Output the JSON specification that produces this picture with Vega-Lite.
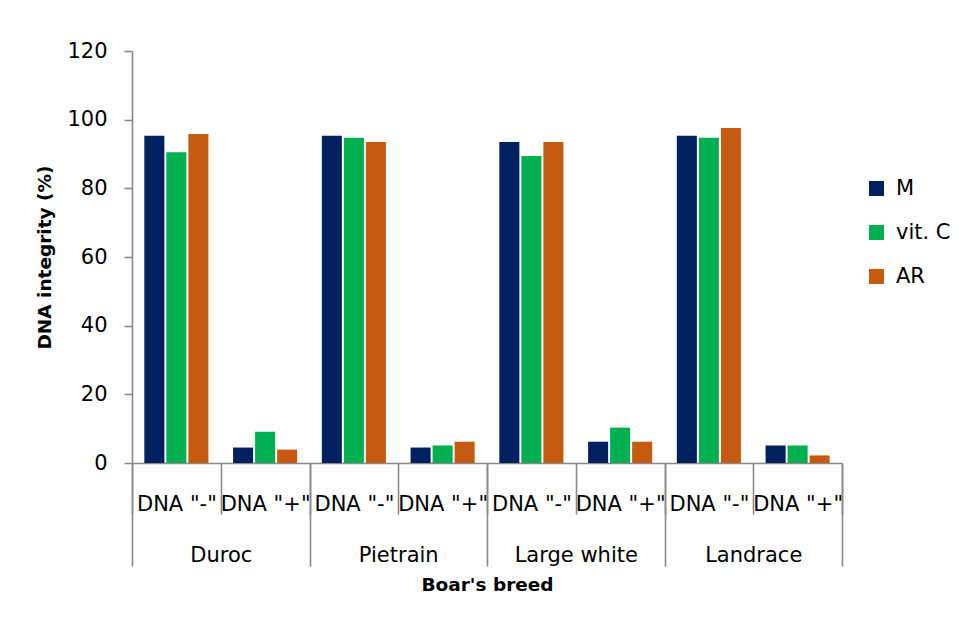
{
  "$schema": "https://vega.github.io/schema/vega-lite/v6.json",
  "width": 710,
  "height": 412,
  "autosize": {"type": "none"},
  "padding": {"left": 132, "top": 51, "right": 120, "bottom": 161},
  "background": "white",
  "config": {
    "view": {"stroke": null},
    "font": "DejaVu Sans",
    "axis": {
      "domainColor": "#898989",
      "tickColor": "#898989",
      "domainWidth": 1.6,
      "tickWidth": 1.6,
      "labelColor": "black",
      "titleColor": "black",
      "labelFontSize": 21,
      "titleFontSize": 18.5,
      "titleFontWeight": "bold",
      "grid": false,
      "labelOverlap": false,
      "labelFlush": false
    }
  },
  "data": {
    "values": [
      {"breed": "Duroc", "key": "Duroc|DNA \"-\"", "series": "M", "value": 95.3},
      {"breed": "Duroc", "key": "Duroc|DNA \"-\"", "series": "vit. C", "value": 90.5},
      {"breed": "Duroc", "key": "Duroc|DNA \"-\"", "series": "AR", "value": 95.8},
      {"breed": "Duroc", "key": "Duroc|DNA \"+\"", "series": "M", "value": 4.5},
      {"breed": "Duroc", "key": "Duroc|DNA \"+\"", "series": "vit. C", "value": 9.1},
      {"breed": "Duroc", "key": "Duroc|DNA \"+\"", "series": "AR", "value": 3.9},
      {"breed": "Pietrain", "key": "Pietrain|DNA \"-\"", "series": "M", "value": 95.3},
      {"breed": "Pietrain", "key": "Pietrain|DNA \"-\"", "series": "vit. C", "value": 94.7},
      {"breed": "Pietrain", "key": "Pietrain|DNA \"-\"", "series": "AR", "value": 93.5},
      {"breed": "Pietrain", "key": "Pietrain|DNA \"+\"", "series": "M", "value": 4.5},
      {"breed": "Pietrain", "key": "Pietrain|DNA \"+\"", "series": "vit. C", "value": 5.1},
      {"breed": "Pietrain", "key": "Pietrain|DNA \"+\"", "series": "AR", "value": 6.2},
      {"breed": "Large white", "key": "Large white|DNA \"-\"", "series": "M", "value": 93.5},
      {"breed": "Large white", "key": "Large white|DNA \"-\"", "series": "vit. C", "value": 89.4},
      {"breed": "Large white", "key": "Large white|DNA \"-\"", "series": "AR", "value": 93.5},
      {"breed": "Large white", "key": "Large white|DNA \"+\"", "series": "M", "value": 6.2},
      {"breed": "Large white", "key": "Large white|DNA \"+\"", "series": "vit. C", "value": 10.3},
      {"breed": "Large white", "key": "Large white|DNA \"+\"", "series": "AR", "value": 6.2},
      {"breed": "Landrace", "key": "Landrace|DNA \"-\"", "series": "M", "value": 95.3},
      {"breed": "Landrace", "key": "Landrace|DNA \"-\"", "series": "vit. C", "value": 94.7},
      {"breed": "Landrace", "key": "Landrace|DNA \"-\"", "series": "AR", "value": 97.6},
      {"breed": "Landrace", "key": "Landrace|DNA \"+\"", "series": "M", "value": 5.1},
      {"breed": "Landrace", "key": "Landrace|DNA \"+\"", "series": "vit. C", "value": 5.1},
      {"breed": "Landrace", "key": "Landrace|DNA \"+\"", "series": "AR", "value": 2.2}
    ]
  },
  "layer": [
    {
      "mark": {"type": "bar"},
      "encoding": {
        "x": {
          "field": "key",
          "type": "nominal",
          "sort": null,
          "scale": {"paddingInner": 0, "paddingOuter": 0},
          "axis": {
            "orient": "bottom",
            "title": null,
            "labelAngle": 0,
            "labelExpr": "split(datum.value, '|')[1]",
            "tickBand": "extent",
            "tickSize": 51,
            "labelPadding": -21,
            "labelBaseline": "top"
          }
        },
        "xOffset": {
          "field": "series",
          "type": "nominal",
          "sort": ["M", "vit. C", "AR"],
          "scale": {"paddingInner": 0.09, "paddingOuter": 0.56}
        },
        "y": {
          "field": "value",
          "type": "quantitative",
          "scale": {"domain": [0, 120], "nice": false},
          "axis": {
            "title": "DNA integrity (%)",
            "values": [0, 20, 40, 60, 80, 100, 120],
            "tickSize": 8,
            "labelPadding": 17,
            "titlePadding": 12
          }
        },
        "color": {
          "field": "series",
          "type": "nominal",
          "scale": {"domain": ["M", "vit. C", "AR"], "range": ["#002060", "#00B050", "#C55A11"]},
          "legend": {
            "title": null,
            "orient": "none",
            "legendX": 734,
            "legendY": 127,
            "padding": 0,
            "symbolType": "square",
            "symbolSize": 225,
            "symbolStrokeWidth": 0,
            "symbolOpacity": 1,
            "labelFontSize": 21,
            "labelColor": "black",
            "labelOffset": 9,
            "rowPadding": 22
          }
        }
      }
    },
    {
      "mark": {"type": "bar", "opacity": 0},
      "encoding": {
        "x": {
          "field": "breed",
          "type": "nominal",
          "sort": ["Duroc", "Pietrain", "Large white", "Landrace"],
          "scale": {"paddingInner": 0, "paddingOuter": 0},
          "axis": {
            "orient": "bottom",
            "title": "Boar's breed",
            "labelAngle": 0,
            "domain": false,
            "tickBand": "extent",
            "tickSize": 103,
            "labelPadding": -22,
            "labelBaseline": "top",
            "titlePadding": 9
          }
        }
      }
    }
  ],
  "resolve": {"scale": {"x": "independent"}, "axis": {"x": "independent"}}
}
